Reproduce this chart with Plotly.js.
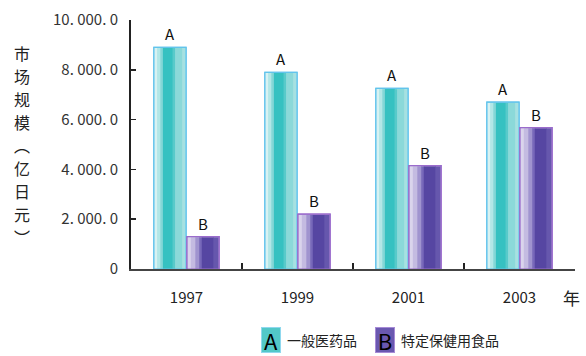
<!DOCTYPE html>
<html>
<head>
<meta charset="utf-8">
<script src="https://cdn.plot.ly/plotly-3.0.1.min.js"></script>
<style>html,body{margin:0;padding:0;background:#fff;}#chart{width:586px;height:356px;}</style>
</head>
<body>
<div id="chart"></div>
<script>
// ---- data ----
var years = ['1997', '1999', '2001', '2003'];
var seriesA = [8900, 7900, 7250, 6700];   // 一般医药品
var seriesB = [1300, 2200, 4150, 5680];   // 特定保健用食品
var nameA = '一般医药品';
var nameB = '特定保健用食品';
var yTickVals = [0, 2000, 4000, 6000, 8000, 10000];
var yTickText = ['0', '2. 000. 0', '4. 000. 0', '6. 000. 0', '8. 000. 0', '10. 000. 0'];
var yTitleChars = ['市', '场', '规', '模', '︵', '亿', '日', '元', '︶'];

// ---- style ----
var FONT = '"Noto Sans CJK JP", "Noto Sans CJK SC", "DejaVu Sans", sans-serif';
var BW = 0.29;      // bar width in category units
var GAP = 0.008;
var stripesA = [[0, 0.10, '#d8f2f2'], [0.10, 0.20, '#b2e7e7'], [0.20, 0.28, '#84d7d7'],
                [0.28, 0.58, '#36c1c1'], [0.58, 0.66, '#58caca'], [0.66, 0.88, '#8bd9d9'], [0.88, 1, '#a6e1e1']];
var stripesB = [[0, 0.12, '#dad4ec'], [0.12, 0.26, '#c4bbe1'], [0.26, 0.38, '#a094cf'],
                [0.38, 0.46, '#7869ba'], [0.46, 0.82, '#5646a2'], [0.82, 1, '#6657ad']];

var traces = [];
function addSeries(vals, offset, stripes, border, label) {
  traces.push({
    type: 'bar', x: years, y: vals, offset: offset, width: BW,
    marker: {color: stripes[0][2], line: {color: border, width: 1.2}},
    text: vals.map(function(){return label;}), textposition: 'outside',
    textfont: {family: FONT, size: 15, color: '#111'}, cliponaxis: false,
    hoverinfo: 'skip', showlegend: false
  });
  stripes.forEach(function(s, i) {
    var inset = 0.004;
    var a = Math.max(s[0] * BW, inset);
    var b = Math.min(s[1] * BW + (i < stripes.length - 1 ? 0.006 : 0), BW - inset);
    traces.push({
      type: 'bar', x: years, y: vals.map(function(v){return v - 25;}), offset: offset + a, width: b - a,
      marker: {color: s[2], line: {width: 0}}, hoverinfo: 'skip', showlegend: false
    });
  });
  traces.push({
    type: 'bar', x: years, y: vals, offset: offset, width: BW,
    marker: {color: 'rgba(0,0,0,0)', line: {color: border, width: 1.2}},
    hoverinfo: 'skip', showlegend: false
  });
}
addSeries(seriesA, -BW - GAP / 2, stripesA, '#62c4ec', 'A');
addSeries(seriesB, GAP / 2, stripesB, '#9a6ccc', 'B');

// paper coords helpers: plot area px x 131..575, y 20..269
function px(x) { return (x - 131) / 444; }
function py(y) { return (269 - y) / 249; }

var annotations = [];
yTitleChars.forEach(function(ch, i) {
  annotations.push({
    xref: 'paper', yref: 'paper', x: px(22), y: py(53 + i * 23), text: ch,
    showarrow: false, font: {family: FONT, size: 16, color: '#222'}, xanchor: 'center', yanchor: 'middle'
  });
});
annotations.push({
  xref: 'paper', yref: 'paper', x: px(571), y: py(297), text: '年',
  showarrow: false, font: {family: FONT, size: 17, color: '#222'}, xanchor: 'center', yanchor: 'middle'
});
annotations.push({
  xref: 'paper', yref: 'paper', x: px(271), y: py(340), text: 'A',
  showarrow: false, font: {family: FONT, size: 22, color: '#000'}, bgcolor: '#52c8c8',
  bordercolor: '#8fd8ee', borderwidth: 1, borderpad: -3, width: 16, height: 22, xanchor: 'center', yanchor: 'middle'
});
annotations.push({
  xref: 'paper', yref: 'paper', x: px(285), y: py(340), text: nameA,
  showarrow: false, font: {family: FONT, size: 14, color: '#222'}, xanchor: 'left', yanchor: 'middle'
});
annotations.push({
  xref: 'paper', yref: 'paper', x: px(385), y: py(340), text: 'B',
  showarrow: false, font: {family: FONT, size: 22, color: '#000'}, bgcolor: '#6a58b0',
  bordercolor: '#a68ad6', borderwidth: 1, borderpad: -3, width: 16, height: 22, xanchor: 'center', yanchor: 'middle'
});
annotations.push({
  xref: 'paper', yref: 'paper', x: px(399), y: py(340), text: nameB,
  showarrow: false, font: {family: FONT, size: 14, color: '#222'}, xanchor: 'left', yanchor: 'middle'
});

var layout = {
  width: 586, height: 356,
  margin: {l: 131, r: 11, t: 20, b: 87},
  paper_bgcolor: '#fff', plot_bgcolor: '#fff',
  barmode: 'overlay', showlegend: false,
  xaxis: {
    type: 'category', range: [-0.5, 3.5], tickson: 'boundaries', ticks: 'inside', ticklen: 6,
    tickcolor: '#222', tickwidth: 1.5, showline: true, linecolor: '#444', linewidth: 2,
    showgrid: false, zeroline: false, ticklabelstandoff: 14,
    tickfont: {family: FONT, size: 15, color: '#222'}
  },
  yaxis: {
    range: [0, 10000], tickvals: yTickVals, ticktext: yTickText, ticks: 'inside', ticklen: 5,
    tickcolor: '#222', tickwidth: 1.5, showline: true, linecolor: '#222', linewidth: 2,
    showgrid: false, zeroline: false, ticklabelstandoff: 8,
    tickfont: {family: FONT, size: 15, color: '#333'}
  },
  annotations: annotations
};
Plotly.newPlot('chart', traces, layout, {staticPlot: true, displayModeBar: false});
</script>
</body>
</html>
